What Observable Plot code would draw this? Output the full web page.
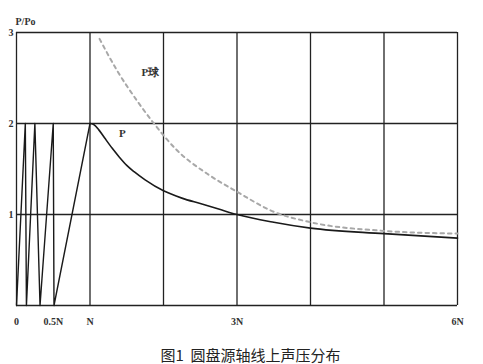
<!DOCTYPE html>
<html><head><meta charset="utf-8">
<script src="https://cdn.jsdelivr.net/npm/d3@7"></script>
<script src="https://cdn.jsdelivr.net/npm/@observablehq/plot@0.6"></script>
<style>
body{margin:0;background:#fff;width:483px;overflow:hidden;}
#cap{font-family:"Noto Sans CJK SC",sans-serif;font-size:15px;color:#222;text-align:center;height:28px;line-height:28px;margin-top:5px;padding-left:18px;white-space:pre;}
</style>
</head><body>
<div id="chart"></div>
<div id="cap">图1  圆盘源轴线上声压分布</div>
<script>
// Near-field oscillation of P (x in units of N, y = P/Po)
const nearX = [0, 0.12, 0.135, 0.25, 0.32, 0.5, 0.51, 1.0];
const nearY = [0, 2, 0, 2, 0, 2, 0, 2];
// Far-field decay of P
const farX = [1.0, 1.05, 1.12, 1.2, 1.3, 1.4, 1.5, 1.6, 1.75, 2.0, 2.25, 2.5, 2.75, 3.0, 3.5, 4.0, 5.0, 6.0];
const farY = [2.0, 1.99, 1.93, 1.84, 1.73, 1.63, 1.54, 1.47, 1.38, 1.26, 1.18, 1.12, 1.06, 1.0, 0.915, 0.85, 0.79, 0.74];
// Spherical-wave P球 (dashed)
const sphX = [1.13, 1.37, 1.64, 1.87, 2.19, 2.59, 3.0, 3.5, 4.0, 5.0, 6.0];
const sphY = [2.93, 2.58, 2.25, 2.0, 1.70, 1.45, 1.25, 1.03, 0.915, 0.82, 0.79];
// Axis ticks
const xTicks = [0, 0.5, 1, 3, 6];
const xTickLabels = ["0", "0.5N", "N", "3N", "6N"];
const yTicks = [1, 2, 3];
const yTickLabels = ["1", "2", "3"];
const gridXs = [0, 1, 2, 3, 4, 5, 6];
const gridYs = [0, 1, 2, 3];
// Curve labels
const labelText = ["P球", "P"];
const labelX = [1.82, 1.44];
const labelY = [2.56, 1.89];

const toPts = (xs, ys) => xs.map((x, i) => ({x, y: ys[i]}));
const near = toPts(nearX, nearY);
const far = toPts(farX, farY);
const sph = toPts(sphX, sphY);
const labels = labelText.map((t, i) => ({t, x: labelX[i], y: labelY[i]}));

const font = "'Liberation Serif', serif";
const chart = Plot.plot({
  width: 483,
  height: 336,
  marginLeft: 16,
  marginRight: 26,
  marginTop: 32,
  marginBottom: 31,
  style: {background: "#fff", fontFamily: font, fontSize: "10px", color: "#333"},
  x: {domain: [0, 6]},
  y: {domain: [0, 3]},
  marks: [
    Plot.gridX(gridXs, {stroke: "#222", strokeOpacity: 1, strokeWidth: 1.3}),
    Plot.gridY(gridYs, {stroke: "#222", strokeOpacity: 1, strokeWidth: 1.3}),
    Plot.line(sph, {x: "x", y: "y", curve: "monotone-x", stroke: "#a8a8a8", strokeWidth: 2, strokeDasharray: "3.5,4"}),
    Plot.line(near, {x: "x", y: "y", stroke: "#1a1a1a", strokeWidth: 1.4}),
    Plot.line(far, {x: "x", y: "y", curve: "monotone-x", stroke: "#1a1a1a", strokeWidth: 1.6}),
    Plot.text(labels, {x: "x", y: "y", text: "t", fontSize: 11, fill: "#333", fontWeight: "bold"}),
    Plot.axisX(xTicks, {tickSize: 0, tickPadding: 12, tickFormat: (d, i) => xTickLabels[i], fontSize: 10, fontWeight: "bold", fill: "#333", label: null}),
    Plot.axisY(yTicks, {tickSize: 0, tickPadding: 3, tickFormat: (d, i) => yTickLabels[i], fontSize: 10, fontWeight: "bold", fill: "#333", label: null}),
    Plot.text(["P/Po"], {frameAnchor: "top-left", dx: -1, dy: -15, textAnchor: "start", fontSize: 10, fontWeight: "bold", fill: "#333"})
  ]
});
document.getElementById("chart").appendChild(chart);
</script>
</body></html>
